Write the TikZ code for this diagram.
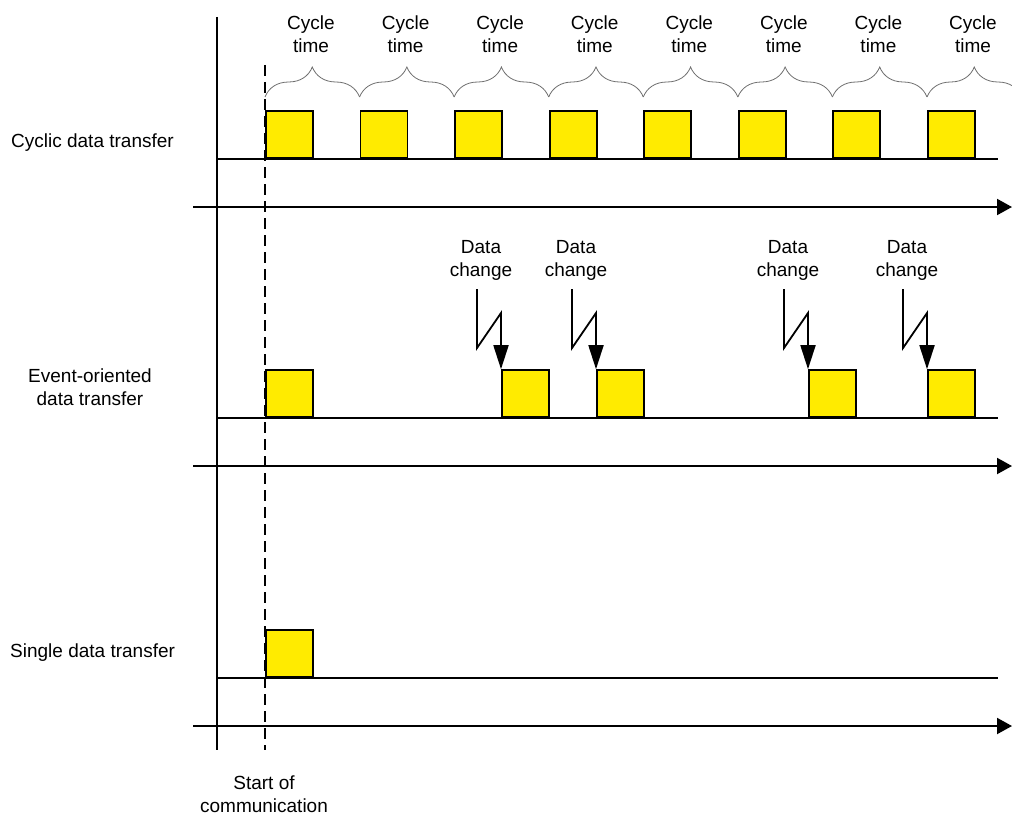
\documentclass[tikz,border=0pt]{standalone}
\usepackage{fontspec}
\setmainfont{Liberation Sans}
\usetikzlibrary{arrows.meta,decorations.pathreplacing}
\definecolor{pulsefill}{RGB}{255,235,0}
\definecolor{bracegray}{RGB}{110,110,110}
\tikzset{
  pulse/.style={draw=black, fill=pulsefill, line width=1.8pt, inner sep=0pt,
    minimum width=47pt, minimum height=47pt, anchor=south west},
  lbl/.style={inner sep=0pt, align=center, font=\fontsize{19}{23}\selectfont},
  baseline/.style={line width=2pt},
  timeaxis/.style={line width=2pt, -{Triangle[length=15pt,width=16pt]}},
  zap/.style={line width=1.8pt, -{Triangle[length=24pt,width=15pt]}},
  cyclebrace/.style={draw=bracegray, line width=0.8pt,
    decorate, decoration={brace, amplitude=30pt}},
  startline/.style={line width=1.8pt, dash pattern=on 11pt off 6pt}
}
\begin{document}
\begin{tikzpicture}[x=1pt,y=-1pt]
\useasboundingbox (0,0) rectangle (1012,816);

% vertical reference lines
\coordinate (vtop) at (217,17);
\coordinate (vbot) at (217,750);
\draw[line width=2pt] (vtop) -- (vbot);
\coordinate (stop) at (265,65);
\coordinate (sbot) at (265,750);
\draw[startline] (stop) -- (sbot);

% row labels
\node[lbl, anchor=west] (rowA) at (11,143) {Cyclic data transfer};
\node[lbl] (rowB) at (90,387) {Event-oriented\\data transfer};
\node[lbl, anchor=west] (rowC) at (10,653) {Single data transfer};
\node[lbl] (start) at (264,794) {Start of\\communication};

\begin{scope}
\clip (0,0) rectangle (1012,816);
% ---- cyclic data transfer ----
\coordinate (cA0) at (217,159);
\coordinate (cA1) at (998,159);
\draw[baseline] (cA0) -- (cA1);
\coordinate (tA0) at (193,207);
\coordinate (tA1) at (1012,207);
\draw[timeaxis] (tA0) -- (tA1);
\foreach \i in {0,...,7} {
  \pgfmathsetmacro{\bx}{265+94.57*\i}
  \node[pulse] (c\i) at (\bx,159) {};
  \coordinate (bl\i) at (\bx,97);
  \coordinate (br\i) at (\bx+94.57,97);
  \draw[cyclebrace] (bl\i) -- (br\i);
  \node[lbl] (ct\i) at (\bx+46,34) {Cycle\\time};
}
\end{scope}

% ---- event-oriented data transfer ----
\coordinate (cB0) at (217,418);
\coordinate (cB1) at (998,418);
\draw[baseline] (cB0) -- (cB1);
\coordinate (tB0) at (193,466);
\coordinate (tB1) at (1012,466);
\draw[timeaxis] (tB0) -- (tB1);
\node[pulse] (e0) at (265,418) {};
\foreach \i/\bx in {1/501,2/596,3/808,4/927} {
  \node[pulse] (e\i) at (\bx,418) {};
  \node[lbl] (dc\i) at (\bx-20,260) {Data\\change};
  \coordinate (z\i) at (\bx-24,289);
  \draw[zap] (z\i) -- ++(0,59) -- (\bx,313) -- (e\i.north west);
}

% ---- single data transfer ----
\coordinate (cC0) at (217,678);
\coordinate (cC1) at (998,678);
\draw[baseline] (cC0) -- (cC1);
\coordinate (tC0) at (193,726);
\coordinate (tC1) at (1012,726);
\draw[timeaxis] (tC0) -- (tC1);
\node[pulse] (s0) at (265,678) {};
\end{tikzpicture}
\end{document}
